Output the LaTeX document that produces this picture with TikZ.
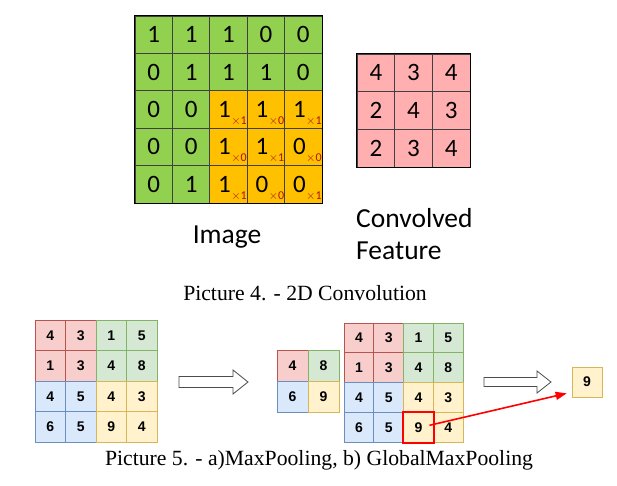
\documentclass[tikz,border=0pt]{standalone}
\usepackage{fontspec}
\setmainfont{Liberation Serif}
\newfontfamily\calfont{Carlito}
\newfontfamily\helfont{Liberation Sans}
\usetikzlibrary{arrows.meta}
\definecolor{tgreen}{HTML}{92D050}
\definecolor{torange}{HTML}{FFC000}
\definecolor{tpink}{HTML}{FFAFAF}
\definecolor{subred}{HTML}{B01010}
\definecolor{qredf}{HTML}{F8CECC}\definecolor{qredd}{HTML}{B85450}
\definecolor{qgreenf}{HTML}{D5E8D4}\definecolor{qgreend}{HTML}{82B366}
\definecolor{qbluef}{HTML}{DAE8FC}\definecolor{qblued}{HTML}{6C8EBF}
\definecolor{qyelf}{HTML}{FFF2CC}\definecolor{qyeld}{HTML}{D6B656}
\newcommand{\kw}[1]{\kern0.5pt\smash{\raisebox{-7pt}{\fontsize{12}{12}\selectfont\color{subred}$\times$#1}}}
\begin{document}
\begin{tikzpicture}[x=1pt,y=-1pt,
  tcell/.style={draw=black!75, line width=0.8pt, minimum size=37.4pt, inner sep=0pt,
    font=\calfont\fontsize{25}{25}\selectfont},
  ccell/.style={tcell, minimum size=37.7pt, fill=tpink},
  bcell/.style={line width=0.7pt, minimum size=30.5pt, inner sep=0pt,
    font=\helfont\bfseries\fontsize{14}{14}\selectfont},
  qr/.style={bcell, fill=qredf, draw=qredd},
  qg/.style={bcell, fill=qgreenf, draw=qgreend},
  qb/.style={bcell, fill=qbluef, draw=qblued},
  qy/.style={bcell, fill=qyelf, draw=qyeld},
  hollow/.style={draw=black!70, line width=0.8pt, fill=white},
  lbl/.style={font=\calfont\fontsize{27.5}{27.5}\selectfont, inner sep=0pt},
  capt/.style={font=\fontsize{21.7}{21.7}\selectfont, inner sep=0pt}
]
\useasboundingbox (0,0) rectangle (617,486);

% ---------- Top: image grid (orange cells carry the kernel weights) ----------
\foreach \r/\row in {1/{1/G/0,1/G/0,1/G/0,0/G/0,0/G/0},2/{0/G/0,1/G/0,1/G/0,1/G/0,0/G/0},3/{0/G/0,0/G/0,1/O/1,1/O/0,1/O/1},4/{0/G/0,0/G/0,1/O/0,1/O/1,0/O/0},5/{0/G/0,1/G/0,1/O/1,0/O/0,0/O/1}}{
  \foreach \v/\k/\w [count=\c] in \row {
    \if\k G
      \node[tcell, fill=tgreen] (i-\r-\c) at ({135+37.4*(\c-0.5)},{16+37.4*(\r-0.5)}) {\v};
    \else
      \node[tcell, fill=torange] (i-\r-\c) at ({135+37.4*(\c-0.5)},{16+37.4*(\r-0.5)}) {\hspace*{8pt}\v\kw{\w}};
    \fi
  }
}
\draw[line width=1.6pt] (i-1-1.north west) rectangle (i-5-5.south east);
\node[lbl] (imglbl) at (227,237) {Image};

% ---------- Top: convolved feature ----------
\foreach \r/\row in {1/{4,3,4},2/{2,4,3},3/{2,3,4}}{
  \foreach \v [count=\c] in \row {
    \node[ccell] (f-\r-\c) at ({357+37.7*(\c-0.5)},{54+37.7*(\r-0.5)}) {\v};
  }
}
\draw[line width=1.6pt] (f-1-1.north west) rectangle (f-3-3.south east);
\node[lbl, anchor=west] (conv) at (356,218) {Convolved};
\node[lbl, anchor=west] (feat) at (356,251) {Feature};

\node[capt] (cap4) at (305,293) {Picture 4. - 2D Convolution};

% ---------- Bottom: pooling ----------
% a) input grid
\foreach \r/\row in {1/{4/qr,3/qr,1/qg,5/qg},2/{1/qr,3/qr,4/qg,8/qg},3/{4/qb,5/qb,4/qy,3/qy},4/{6/qb,5/qb,9/qy,4/qy}}{
  \foreach \v/\s [count=\c] in \row {
    \node[\s] (a-\r-\c) at ({35+30.5*(\c-0.5)},{320+30.5*(\r-0.5)}) {\v};
  }
}
% hollow arrow 1
\draw[hollow] (179,376.5) -- (233,376.5) -- (233,370) -- (248,382) -- (233,394) -- (233,387.5) -- (179,387.5) -- cycle;

% a) result
\node[qr, minimum size=31pt] (m-1-1) at (292.5,365.5) {4};
\node[qg, minimum size=31pt] (m-1-2) at (323.5,365.5) {8};
\node[qb, minimum size=31pt] (m-2-1) at (292.5,396.5) {6};
\node[qy, minimum size=31pt] (m-2-2) at (323.5,396.5) {9};

% b) input grid
\foreach \r/\row in {1/{4/qr,3/qr,1/qg,5/qg},2/{1/qr,3/qr,4/qg,8/qg},3/{4/qb,5/qb,4/qy,3/qy},4/{6/qb,5/qb,9/qy,4/qy}}{
  \foreach \v/\s [count=\c] in \row {
    \node[\s, minimum size=29.8pt] (b-\r-\c) at ({344+29.8*(\c-0.5)},{323+29.8*(\r-0.5)}) {\v};
  }
}
\draw[red, line width=2pt] (b-4-3.north west) rectangle (b-4-3.south east);

% hollow arrow 2
\draw[hollow] (484,377.5) -- (537,377.5) -- (537,371) -- (551,382) -- (537,393) -- (537,386.5) -- (484,386.5) -- cycle;

\node[qy, minimum size=30pt] (res) at (587,382) {9};
\coordinate (rs) at ([xshift=11pt,yshift=2pt]b-4-3.center);
\draw[red, line width=1.6pt, -{Triangle[length=11pt,width=8pt]}] (rs) -- ([xshift=-5pt,yshift=4pt]res.south west);

\node[capt] (cap5) at (319,460) {Picture 5. - a)MaxPooling, b) GlobalMaxPooling};
\end{tikzpicture}
\end{document}
